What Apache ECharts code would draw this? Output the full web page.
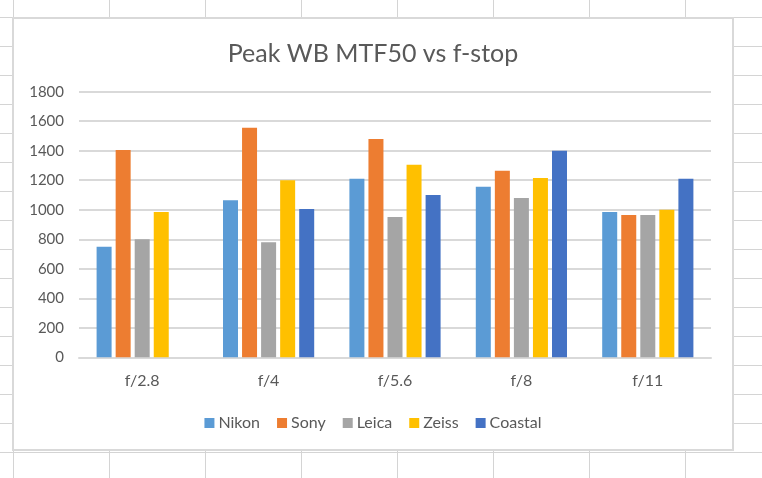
<!DOCTYPE html>
<html>
<head>
<meta charset="utf-8">
<script src="https://cdn.jsdelivr.net/npm/echarts@6/dist/echarts.min.js"></script>
<style>
html,body{margin:0;padding:0;}
#sheet{position:relative;width:762px;height:478px;overflow:hidden;background-color:#fff;
background-image:
 linear-gradient(to right, #d4d4d4 1px, transparent 1px),
 linear-gradient(to bottom, #d4d4d4 1px, transparent 1px);
background-size:96px 29px;
background-position:13px 17px;}
#box{position:absolute;left:12px;top:17px;width:722px;height:434px;box-sizing:border-box;border:2px solid #d9d9d9;background:#fff;}
#chart{width:718px;height:430px;}
</style>
</head>
<body>
<div id="sheet"><div id="box"><div id="chart"></div></div></div>
<script>
const categories = ['f/2.8','f/4','f/5.6','f/8','f/11'];
const nikon   = [750, 1065, 1210, 1155, 985];
const sony    = [1405, 1555, 1480, 1265, 965];
const leica   = [800, 780, 950, 1080, 965];
const zeiss   = [985, 1200, 1305, 1215, 1000];
const coastal = [null, 1005, 1100, 1400, 1210];
const seriesNames = ['Nikon','Sony','Leica','Zeiss','Coastal'];
const seriesData = [nikon, sony, leica, zeiss, coastal];
const colors = ['#5B9BD5','#ED7D31','#A5A5A5','#FFC000','#4472C4'];

const FONT = 'Lato';
const chart = echarts.init(document.getElementById('chart'), null, {renderer:'canvas'});
chart.setOption({
  animation:false,
  color: colors,
  title:{text:'Peak WB MTF50 vs f-stop', left:'center', top:17,
    textStyle:{fontFamily:FONT, fontSize:25, fontWeight:'normal', color:'#595959'}},
  legend:{data:seriesNames, bottom:13, left:'center', itemWidth:10, itemHeight:10, itemGap:17,
    icon:'rect', textStyle:{fontFamily:FONT, fontSize:16, color:'#595959', padding:[0,0,0,-1]}},
  grid:{left:65, right:21, top:72.7, bottom:91.7, containLabel:false},
  xAxis:{type:'category', data:categories,
    axisLine:{lineStyle:{color:'#d9d9d9', width:2}}, axisTick:{show:false},
    axisLabel:{fontFamily:FONT, fontSize:16, color:'#595959', margin:16}},
  yAxis:{type:'value', min:0, max:1800, interval:200,
    axisLine:{show:false}, axisTick:{show:false},
    splitLine:{lineStyle:{color:'#d9d9d9', width:2}},
    axisLabel:{fontFamily:FONT, fontSize:15, color:'#595959', margin:15,
      formatter:function(v){return String(v);}}},
  series: seriesNames.map((n,i)=>({name:n, type:'bar', data:seriesData[i], barWidth:15, barGap:'27%'}))
});
</script>
</body>
</html>
